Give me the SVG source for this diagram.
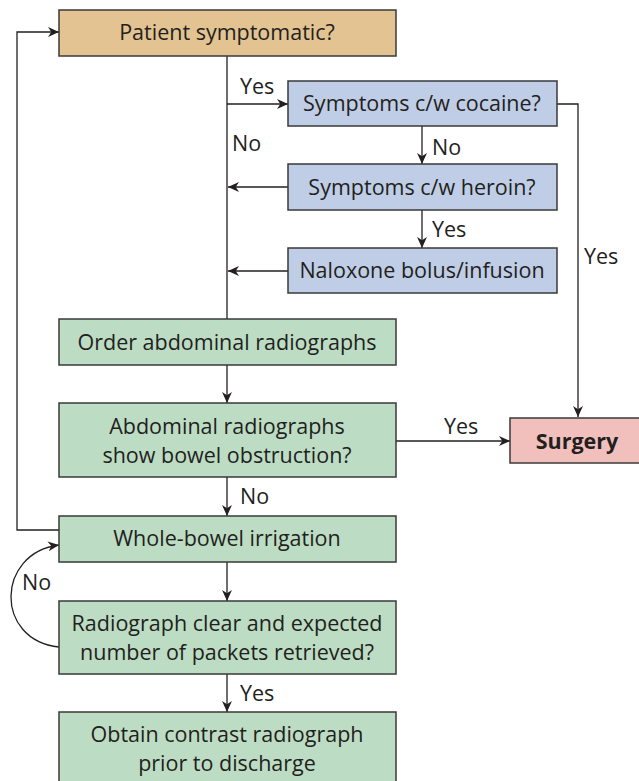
<svg xmlns="http://www.w3.org/2000/svg" width="639" height="781" viewBox="0 0 639 781">
  <defs>
    <marker id="arr" viewBox="0 0 10 10" refX="10" refY="5" markerWidth="11" markerHeight="11" markerUnits="userSpaceOnUse" orient="auto">
      <path d="M0,0.5 L10,5 L0,9.5 L3,5 Z" fill="#231f20"/>
    </marker>
    <style>
      .box { stroke: #3a3a3a; stroke-width: 1.5; }
      .tan { fill: #e2c391; }
      .blue { fill: #bfcee6; }
      .green { fill: #bddcc4; }
      .pink { fill: #f1bfbc; }
      text { font-family: "Open Sans", "Liberation Sans", sans-serif; font-size: 21.5px; fill: #231f20; }
      .c { text-anchor: middle; }
      .b { font-weight: bold; }
      .ln { fill: none; stroke: #231f20; stroke-width: 1.3; }
    </style>
  </defs>

  <!-- connectors -->
  <g id="connectors">
    <path class="ln" d="M227,56 V319"/>
    <path class="ln" d="M227,104 H288" marker-end="url(#arr)"/>
    <path class="ln" d="M422,126 V164" marker-end="url(#arr)"/>
    <path class="ln" d="M422,210 V248" marker-end="url(#arr)"/>
    <path class="ln" d="M288,187 H228" marker-end="url(#arr)"/>
    <path class="ln" d="M288,271 H228" marker-end="url(#arr)"/>
    <path class="ln" d="M557,104 H578 V417" marker-end="url(#arr)"/>
    <path class="ln" d="M227,365 V403" marker-end="url(#arr)"/>
    <path class="ln" d="M396,441 H510" marker-end="url(#arr)"/>
    <path class="ln" d="M227,477 V516" marker-end="url(#arr)"/>
    <path class="ln" d="M59,530 H17 V32 H59" marker-end="url(#arr)"/>
    <path class="ln" d="M227,562 V601" marker-end="url(#arr)"/>
    <path class="ln" d="M227,674 V712" marker-end="url(#arr)"/>
    <path class="ln" d="M59,647 C-6,640 -4,553 59,545" marker-end="url(#arr)"/>
    <text x="240" y="94">Yes</text>
    <text x="232" y="151">No</text>
    <text x="432" y="155">No</text>
    <text x="432" y="237">Yes</text>
    <text x="584" y="264">Yes</text>
    <text x="444" y="434">Yes</text>
    <text x="240" y="504">No</text>
    <text x="22" y="590">No</text>
    <text x="240" y="701">Yes</text>
  </g>

  <g id="patient-symptomatic">
    <rect class="box tan" x="59" y="10" width="337" height="46"/>
    <text class="c" x="227" y="40">Patient symptomatic?</text>
  </g>
  <g id="cocaine">
    <rect class="box blue" x="288" y="81" width="269" height="45"/>
    <text class="c" x="422" y="111">Symptoms c/w cocaine?</text>
  </g>
  <g id="heroin">
    <rect class="box blue" x="288" y="164" width="269" height="46"/>
    <text class="c" x="422" y="195">Symptoms c/w heroin?</text>
  </g>
  <g id="naloxone">
    <rect class="box blue" x="288" y="248" width="269" height="45"/>
    <text class="c" x="422" y="278">Naloxone bolus/infusion</text>
  </g>
  <g id="order-radiographs">
    <rect class="box green" x="59" y="319" width="337" height="46"/>
    <text class="c" x="227" y="350">Order abdominal radiographs</text>
  </g>
  <g id="bowel-obstruction">
    <rect class="box green" x="59" y="403" width="337" height="74"/>
    <text class="c" x="227" y="434">Abdominal radiographs</text>
    <text class="c" x="227" y="463">show bowel obstruction?</text>
  </g>
  <g id="surgery">
    <rect class="box pink" x="510" y="418" width="130" height="45"/>
    <text class="c b" x="577" y="449">Surgery</text>
  </g>
  <g id="whole-bowel-irrigation">
    <rect class="box green" x="59" y="516" width="337" height="46"/>
    <text class="c" x="227" y="546">Whole-bowel irrigation</text>
  </g>
  <g id="radiograph-clear">
    <rect class="box green" x="59" y="601" width="337" height="73"/>
    <text class="c" x="227" y="631">Radiograph clear and expected</text>
    <text class="c" x="227" y="660">number of packets retrieved?</text>
  </g>
  <g id="contrast-radiograph">
    <rect class="box green" x="59" y="712" width="337" height="75"/>
    <text class="c" x="227" y="742">Obtain contrast radiograph</text>
    <text class="c" x="227" y="771">prior to discharge</text>
  </g>
</svg>
